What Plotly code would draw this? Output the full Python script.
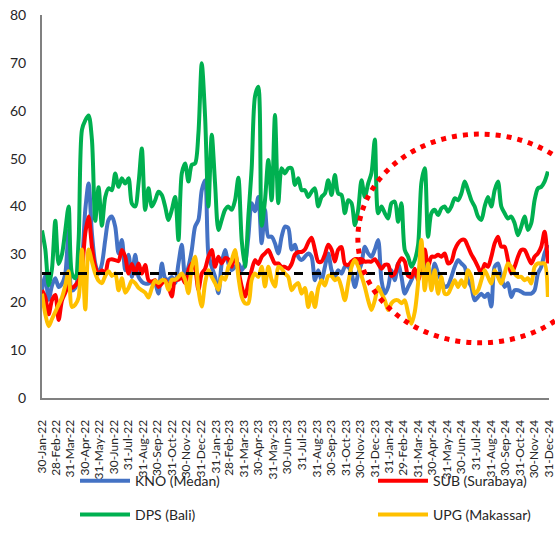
import pandas as pd
import plotly.graph_objects as go

# weekly observations, first week ending 30-Jan-22
first_week = "2022-01-30"

tick_labels = [
    "30-Jan-22", "28-Feb-22", "31-Mar-22", "30-Apr-22", "31-May-22", "30-Jun-22",
    "31-Jul-22", "31-Aug-22", "30-Sep-22", "31-Oct-22", "30-Nov-22", "31-Dec-22",
    "31-Jan-23", "28-Feb-23", "31-Mar-23", "30-Apr-23", "31-May-23", "30-Jun-23",
    "31-Jul-23", "31-Aug-23", "30-Sep-23", "31-Oct-23", "30-Nov-23", "31-Dec-23",
    "31-Jan-24", "29-Feb-24", "31-Mar-24", "30-Apr-24", "31-May-24", "30-Jun-24",
    "31-Jul-24", "31-Aug-24", "30-Sep-24", "31-Oct-24", "30-Nov-24", "31-Dec-24",
]

kno = [
    22.5, 25.5, 20.5, 23.5, 25, 23.2, 23.9, 26, 35, 22.5,
    23, 26, 28.8, 39.3, 44.8, 34.4, 28.1, 26, 28, 33,
    37.2, 37.9, 35.8, 30.2, 33, 26.7, 29.9, 25.3, 29.9, 25.3,
    24.3, 23.9, 23.9, 24.3, 23.9, 21.8, 28.1, 25, 24.7, 25.3,
    24, 28.1, 32, 25.3, 27.4, 30.9, 35.8, 37.2, 43.4, 45.5,
    30, 27.4, 25.3, 21.9, 28.1, 30.9, 28.1, 26.7, 27.4, 28.1,
    26.7, 28.1, 33.7, 40.7, 39, 42, 32.3, 39.3, 33.7, 33.7,
    32.3, 30.2, 33.7, 35.8, 35.5, 31, 32, 29.5, 28.8, 29.5,
    30.2, 29.5, 24.6, 26.7, 24.6, 27.4, 30.2, 26.7, 25.3, 26.7,
    26, 27.4, 27.4, 26, 23.2, 26, 28.1, 31.6, 30.2, 29.5,
    31, 33, 24.6, 21.8, 23.2, 26.7, 24.6, 28.1, 25.3, 21.8,
    23.2, 24.6, 26, 26, 29.5, 27.4, 26, 25.3, 28.1, 26,
    24.6, 23.2, 23.5, 25.3, 27.4, 28.8, 28.1, 27.4, 24.6, 23.2,
    20.4, 21.1, 21.8, 21.1, 21.8, 19.1, 27.4, 28.1, 25.3, 23.2,
    24, 21.1, 22.5, 22.5, 22.2, 21.8, 21.8, 21.8, 22.5, 26,
    27.4, 30.2, 32,
]

sub = [
    22.5, 21, 17.5, 20.4, 21.5, 16.3, 20.4, 22, 23.5, 23,
    23.5, 24.5, 27, 34.4, 37.9, 31.6, 27.4, 26, 26.7, 26,
    28.8, 29, 28.8, 28.6, 30.9, 29.5, 26, 28, 26, 28.1,
    26, 27.8, 24.6, 24.3, 24.6, 23.2, 23.9, 24.6, 23.3, 21.2,
    24.7, 24.7, 25.3, 24, 26.7, 28.1, 27, 22.6, 26, 27,
    29.5, 30.9, 27.4, 29.5, 28.1, 29.2, 29, 27.4, 30.2, 26.7,
    23.3, 21.2, 24, 26.7, 28.8, 28, 29.5, 30.2, 30.9, 29.5,
    28.1, 28.1, 27.4, 27.4, 27, 28, 30, 30.5, 30.5, 31,
    32.5, 33.5, 31, 28.5, 28.5, 30, 32, 31, 28.5, 31,
    31.5, 28, 27.8, 28.5, 29, 29, 29, 28.5, 28.5, 28.5,
    29, 28, 27, 27.8, 27.8, 25.5, 26, 28, 29.2, 28.5,
    25.5, 25.3, 27, 24.6, 27.4, 31, 27.5, 29.5, 29.5, 29.9,
    29.5, 30.2, 28.1, 28.5, 30.9, 32.3, 33, 33, 31.6, 30,
    28.8, 27.4, 26, 28, 27.4, 29.5, 32.3, 33.7, 31.6, 31.6,
    28.8, 26, 27.4, 29.5, 30.9, 30.9, 29.5, 28.1, 29.5, 30.2,
    31.6, 34.7, 28.1,
]

dps = [
    35, 31, 23.5, 27, 37, 28, 30, 35, 40, 26,
    25, 33, 56, 58, 59, 54, 37, 44, 36, 42,
    43.8, 43.4, 46.9, 44.1, 45.9, 44.8, 45.9, 40.6, 40, 44.8,
    52.1, 39.3, 43.8, 40, 41.3, 43.1, 42.4, 40, 37.2, 39.3,
    42, 33, 46.9, 49, 45.2, 48.7, 49, 55.3, 69.9, 58.8,
    40, 55, 44.8, 35.1, 37.2, 39.3, 40, 39.3, 41.3, 46,
    33, 27.4, 37.9, 48, 63, 65, 36, 41.3, 49.7, 41.3,
    59.1, 40.7, 48, 46.9, 48, 48, 44.5, 45.9, 43.4, 43.4,
    42, 43.1, 43.8, 40, 42, 42.7, 45.5, 42.4, 46.6, 42.7,
    42.4, 38.6, 41.3, 40.7, 36.1, 39.3, 45.5, 42, 44.8, 47,
    54, 38.6, 40, 38.6, 37.5, 40.7, 41, 36.8, 40.7, 30.9,
    29.5, 27.4, 28.8, 32, 45, 48, 33.7, 38.6, 39.3, 38.2,
    39.6, 40, 38.9, 40, 41.7, 41.3, 42.7, 45.2, 43.4, 41.3,
    40, 37.9, 37.2, 40, 42, 40, 43.4, 45.2, 40, 38.6,
    37.5, 37.9, 36.5, 34, 35.8, 37.9, 35.1, 36.5, 41.3, 43.8,
    44.1, 45.2, 47.3,
]

upg = [
    21.8, 17.5, 15, 16.5, 18, 19.5, 21, 23.5, 26.5, 19,
    19.5, 21, 31, 18.5, 31, 28.5, 26, 24.5, 24, 25.5,
    26.5, 25.5, 26, 22.5, 25, 22, 23, 24.5, 24, 23,
    22.5, 22, 21, 23, 24.5, 24, 24.6, 24.5, 22.6, 24.7,
    24.7, 25.3, 26, 24.7, 21.9, 27.4, 29.5, 22.6, 19.1, 24,
    26.7, 25.3, 24, 22.6, 25.3, 24.7, 27.4, 28.8, 30.9, 25.3,
    21.2, 19.8, 19.8, 24.7, 26, 25.3, 27.4, 23.3, 27.4, 24.7,
    23.3, 27.4, 27, 26, 25.3, 22.5, 23.5, 24, 21.8, 23,
    19, 22, 19, 23, 24.6, 23.5, 25.5, 25.5, 24.6, 25,
    23, 20.4, 24, 27.4, 28.8, 27.5, 25.5, 23.2, 20.4, 18.4,
    20.4, 23.2, 21.8, 20.4, 18.4, 19.8, 20.4, 20.4, 19.8, 20.4,
    17.7, 15.5, 18, 24, 33, 22.5, 28.1, 22.5, 26.7, 21.8,
    25.3, 21.8, 21.8, 23.2, 24.6, 23.2, 24.6, 23.2, 26.7, 25.3,
    21.8, 22.5, 24.6, 26.7, 25.3, 23.9, 26.7, 25.3, 23.9, 26,
    28.1, 27.4, 26, 25.3, 25.3, 24.6, 25, 23.9, 27.4, 28.1,
    28.1, 28.1, 21.1,
]

benchmark = 26

weeks = pd.date_range(first_week, periods=len(dps), freq="7D")
tick_vals = pd.to_datetime(tick_labels, format="%d-%b-%y")

font_family = "Lato, 'Open Sans', sans-serif"
text_col = "#262626"

# name, values, colour, legend slot (2 x 2 grid below the chart)
series = [
    ("KNO (Medan)", kno, "#4472C4", "legend"),
    ("SUB (Surabaya)", sub, "#FF0000", "legend2"),
    ("DPS (Bali)", dps, "#00B050", "legend3"),
    ("UPG (Makassar)", upg, "#FFC000", "legend4"),
]

fig = go.Figure()
for name, vals, col, leg in series:
    fig.add_trace(go.Scatter(
        x=weeks, y=vals, name=name, mode="lines", legend=leg,
        line=dict(color=col, width=4, shape="spline", smoothing=0.8),
    ))

fig.add_trace(go.Scatter(
    x=weeks, y=[benchmark] * len(weeks), mode="lines", showlegend=False,
    line=dict(color="black", width=3, dash="dash"),
))

# highlight of the recent period
fig.add_shape(
    type="circle", xref="paper", yref="paper",
    x0=0.623, x1=1.105, y0=0.144, y1=0.689,
    line=dict(color="#FF0000", width=5, dash="5px,6px"),
)


def legend_box(x, y):
    return dict(
        orientation="h", xref="paper", yref="paper",
        x=x, y=y, xanchor="left", yanchor="middle",
        itemwidth=50,
        font=dict(family=font_family, size=14, color=text_col),
        bgcolor="rgba(0,0,0,0)",
    )


col_left, col_right = (75 - 42) / 507, (373 - 42) / 507
row_top, row_bottom = -0.2168, -0.3055

fig.update_layout(
    width=555, height=556,
    margin=dict(l=42, r=6, t=15, b=158, autoexpand=False),
    plot_bgcolor="white", paper_bgcolor="white",
    font=dict(family=font_family, color=text_col),
    legend=legend_box(col_left, row_top),
    legend2=legend_box(col_right, row_top),
    legend3=legend_box(col_left, row_bottom),
    legend4=legend_box(col_right, row_bottom),
    xaxis=dict(
        type="date", range=["2022-01-30", "2024-12-31 08:00"],
        tickvals=tick_vals, ticktext=tick_labels, tickangle=-90,
        tickfont=dict(size=12, color=text_col), ticklabeloverflow="allow",
        showgrid=False, zeroline=False, automargin=False,
        showline=True, linecolor="#808080", linewidth=2,
        ticks="outside", ticklen=15, tickcolor="rgba(0,0,0,0)",
    ),
    yaxis=dict(
        range=[0, 80], dtick=10,
        tickfont=dict(size=14, color=text_col),
        showgrid=False, zeroline=False, automargin=False,
        showline=True, linecolor="#808080", linewidth=2,
        ticks="outside", ticklen=11, tickcolor="rgba(0,0,0,0)",
    ),
)

# the page is photographed from its top-left corner, so drop the body margin
fig.write_html(
    "out.html",
    config={"displayModeBar": False},
    post_script="document.body.style.margin='0';",
)
